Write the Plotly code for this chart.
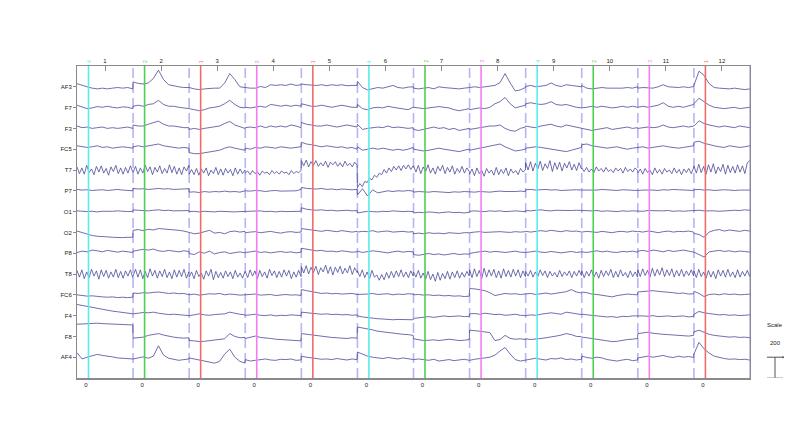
import numpy as np
import plotly.graph_objects as go

channels = ["AF3", "F7", "F3", "FC5", "T7", "P7", "O1", "O2", "P8", "T8", "FC6", "F4", "F8", "AF4"]
epoch_labels = [str(i) for i in range(1, 13)]
event_types = ["4", "2", "1", "3", "1", "4", "2", "3", "4", "2", "3", "1"]
event_colors = {"1": "#f26b6b", "2": "#4fcf4f", "3": "#f47cf4", "4": "#58ecf2"}
event_latency = 0.205   # fraction of epoch where the event sits
zero_tick = 0.16        # fraction of epoch where time 0 tick sits
channel_spacing = 200   # uV
scale_value = 200       # uV

# ---- data (uV), 12 epochs per channel ----
AF3 = [
    [30, 13, 0, -13, -20, -13, -20, -13, -7, -13, -7, -20],
    [47, 33, 27, 37, 80, 160, 70, 20, 7, 0, -7, -7],
    [-7, -20, -27, -20, -13, -13, -13, 37, 127, 70, 0, -13],
    [-7, -13, -13, 3, -7, 20, 13, 20, 13, 27, 13, 20],
    [27, 20, 13, 13, 20, 10, 20, 13, 20, 10, 13, 13],
    [53, -7, -30, -20, -7, -13, 0, 13, -7, -13, -3, 0],
    [-13, -20, -13, -7, -20, 0, -7, -13, -13, -20, -13, -13],
    [-7, 0, -7, 0, 7, 13, 40, 127, 37, -40, -30, -7],
    [3, 13, 0, 7, 13, 37, 13, 3, 20, 13, 7, 0],
    [13, -13, -20, -13, -7, -13, -13, -20, -13, -7, -13, 0],
    [-13, -7, -7, -13, 0, 20, 0, -7, -7, 0, -7, 3],
    [13, 150, 110, 30, -7, -13, -20, -20, -13, -20, -27, -20],
]
F7 = [
    [23, 3, -10, -3, 10, 3, 13, 3, -3, 7, 3, -10],
    [13, 23, 13, 30, 37, 70, 30, 13, 13, 3, -3, -3],
    [-10, -20, -30, -20, -3, 3, 13, 37, 70, 30, 3, -3],
    [3, -3, 3, 13, 3, 30, 23, 13, 23, 13, 23, 13],
    [37, 23, 13, 13, 23, 13, 3, 13, 23, 13, 3, 3],
    [30, -10, -20, -3, 3, -3, 13, 3, -3, -10, -20, 3],
    [3, -3, -10, -3, 3, 10, 3, -3, -20, -30, -20, -10],
    [-20, -10, -3, -10, 3, 37, 57, 97, 37, -3, 13, 23],
    [37, 47, 37, 30, 37, 57, 30, 23, 30, 13, 3, -3],
    [-3, 3, 13, 3, 13, 3, -3, 3, 13, 3, 13, 3],
    [3, 13, 3, 13, 23, 47, 13, 3, 13, 3, 13, 30],
    [37, 90, 57, 23, 3, -3, -10, -3, 3, -10, -3, 3],
]
F3 = [
    [23, 7, 13, 0, 7, 13, 0, 7, 0, 7, 13, 0],
    [33, 23, 23, 40, 57, 70, 40, 23, 23, 13, 7, 7],
    [-10, 0, -10, 0, 7, 13, 23, 47, 67, 33, 13, 0],
    [7, 13, 7, 23, 7, 23, 13, 23, 13, 33, 23, 7],
    [57, 40, 33, 23, 23, 33, 23, 13, 23, 33, 23, 13],
    [40, -10, 0, 7, 13, 7, 23, 7, 13, 7, 0, 7],
    [-10, -20, -10, 7, 13, 0, 7, -10, 0, -20, -10, 0],
    [-10, 0, 7, 13, 23, 23, 33, 0, -20, -27, 0, 13],
    [23, 13, 7, 23, 33, 40, 23, 13, 33, 23, 13, 7],
    [7, -10, -20, -10, 0, 7, -10, 0, 7, 13, 0, 7],
    [0, 7, 13, 7, 13, 33, 13, 7, 13, 23, 13, 23],
    [23, 73, 47, 33, 23, 13, 23, 13, 7, 23, 13, 7],
]
FC5 = [
    [33, 23, 17, 23, 33, 17, 23, 10, 17, 23, 17, 10],
    [23, 33, 23, 33, 43, 50, 33, 23, 17, 10, 17, 10],
    [-33, -43, -43, -33, -23, -17, -10, 10, 23, 10, 0, -10],
    [10, 0, 17, 10, 23, 17, 10, 23, 17, 10, 17, 23],
    [67, 50, 43, 33, 23, 33, 23, 17, 23, 10, 17, 0],
    [23, -10, 0, 10, 0, 10, 0, -10, 0, -10, 0, 17],
    [0, -10, -17, -10, 0, 10, 0, -10, -17, -23, -10, 0],
    [-10, 0, 17, 23, 33, 43, 50, 23, 0, -17, -10, 0],
    [10, 17, 23, 17, 10, 0, -10, -17, -23, -10, 0, 17],
    [43, 50, 33, 23, 17, 10, 17, 23, 10, 0, 10, 17],
    [17, 23, 10, 17, 23, 33, 23, 17, 10, 17, 23, 33],
    [67, 77, 57, 43, 33, 23, 17, 33, 23, 17, 23, 33],
]
T7 = [
    [30, -35, 20, -40, 45, -25, 10, -45, 35, -20, 40, -30, 15, -50, 30, -15, 45, -35, 20, -40, 25, -30, 40, -20],
    [-25, 35, -40, 20, -30, 45, -15, 30, -45, 25, -20, 40, -35, 15, -30, 50, -25, 35, -40, 20, -45, 30, -10, 45],
    [-40, 5, -45, 15, -50, 10, -30, 20, -55, 0, -35, 25, -45, 10, -50, 15, -30, 5, -55, 20, -40, 10, -35, 0],
    [-30, -10, -45, -5, -35, -15, -50, -10, -30, -20, -45, -5, -35, -15, -40, -10, -30, -20, -45, -5, -35, -15, -25, -5],
    [90, 40, 95, 30, 80, 45, 90, 35, 70, 40, 85, 25, 75, 50, 80, 35, 70, 30, 85, 40, 65, 30, 75, 45],
    [-170, -130, -160, -110, -120, -80, -95, -50, -70, -30, -45, 5, -30, 20, -15, 35, 0, 40, -5, 45, 10, 50, 5, 40],
    [40, -20, 45, -35, 30, -15, 50, -30, 20, -40, 35, -10, 45, -35, 25, -20, 40, -40, 15, -25, 35, -30, 20, -15],
    [-40, 10, -55, 20, -35, -5, -60, 15, -30, 0, -50, 25, -45, 5, -35, 20, -55, 10, -30, -5, -45, 15, -20, 0],
    [70, 0, 80, -10, 65, 10, 85, -5, 60, 15, 90, -15, 70, 5, 75, -10, 65, 20, 80, 0, 55, -5, 70, 10],
    [20, -15, 25, -20, 10, -25, 30, -10, 15, -20, 25, -15, 5, -25, 20, -10, 15, -30, 25, -15, 10, -20, 20, -5],
    [-30, 10, -40, 15, -25, 0, -45, 20, -30, 5, -40, 15, -20, 0, -35, 20, -30, 5, -45, 10, -25, 15, -35, 20],
    [40, -30, 55, -25, 35, -40, 50, -20, 60, -35, 30, -15, 55, -40, 45, -25, 35, -30, 50, -20, 40, -35, 70, 90],
]
P7 = [
    [13, 7, 10, 3, 7, 10, 3, 7, 13, 7, 3, 0],
    [23, 17, 20, 13, 17, 23, 17, 20, 13, 17, 23, 20],
    [-13, -10, -17, -7, -13, -7, -10, -3, -10, -7, -13, -7],
    [0, -3, 3, 0, -7, 0, 3, -3, 0, 3, 0, 13],
    [33, 23, 20, 17, 23, 13, 17, 10, 17, 13, 10, 13],
    [-40, 20, -50, 10, -20, -10, 0, -7, 0, -3, 3, -3],
    [-13, -7, -10, -13, -7, -10, -13, -17, -10, -13, -7, -10],
    [-10, -13, -7, -10, -13, -7, -3, -7, -10, -7, -3, -7],
    [10, 13, 7, 10, 13, 7, 10, 3, 7, 13, 10, 7],
    [7, 3, 10, 7, 13, 10, 7, 3, 10, 7, 3, 7],
    [3, 7, 10, 7, 3, 10, 7, 13, 10, 7, 10, 3],
    [10, 13, 7, 10, 3, 7, 10, 7, 3, 7, 10, 7],
]
O1 = [
    [7, 3, 0, 3, -3, 3, 0, 3, 7, 3, 0, 3],
    [17, 13, 10, 7, 13, 17, 10, 13, 7, 10, 13, 10],
    [0, 3, -3, 3, 0, -3, 3, 0, 3, -3, 0, 3],
    [3, 0, 3, 7, 0, 3, -3, 3, 0, 3, 7, 3],
    [37, 23, 17, 13, 17, 10, 13, 7, 10, 13, 7, 10],
    [-13, -3, 3, 0, -3, 3, 0, 7, 3, 0, 3, 0],
    [-13, -7, -10, -3, -7, -13, -7, -3, -10, -7, -13, -7],
    [3, 7, 3, 0, 7, 3, 7, 0, 3, 7, 3, 0],
    [10, 7, 13, 17, 10, 7, 13, 10, 7, 10, 13, 10],
    [7, 3, 7, 10, 3, 7, 3, 0, 7, 3, 7, 3],
    [7, 3, 10, 7, 3, 7, 10, 3, 7, 3, 7, 10],
    [10, 13, 7, 10, 7, 3, 7, 10, 13, 10, 17, 13],
]
O2 = [
    [13, -3, -20, -30, -37, -37, -43, -47, -50, -50, -47, -47],
    [20, 27, 17, 30, 23, 37, 33, 30, 23, 20, 13, 3],
    [0, -13, -7, 3, 20, -7, 0, -13, 7, 13, 3, 10],
    [-3, 3, 7, -3, 3, 10, 0, -7, 3, 7, 0, 3],
    [37, 30, 23, 17, 10, 20, 13, 7, 17, 10, 3, 10],
    [3, 10, 7, 17, 3, 10, 13, 3, 7, 10, 3, 7],
    [-13, -7, -13, -3, -10, -7, -13, -3, -7, -10, -3, -7],
    [-3, 3, 7, 0, 3, 10, 7, 3, 0, 7, 3, 7],
    [10, 3, 13, 17, 10, 20, 13, 7, 17, 10, 13, 7],
    [3, 10, 7, 0, 10, 3, -3, 7, 10, 3, 13, 7],
    [10, 3, 13, 7, -3, 7, 13, 3, 10, 7, 13, 3],
    [-10, -20, -47, 3, 20, 27, 13, 23, 17, 10, 20, 13],
]
P8 = [
    [7, 20, 13, 30, 23, 13, 27, 17, 10, 20, 13, 7],
    [20, 27, 37, 30, 40, 23, 17, 27, 20, 13, 23, 17],
    [-3, -13, 13, 0, 20, -7, 7, 13, -3, 7, 13, 3],
    [7, 13, 20, 7, 13, 3, 10, 17, 7, 13, 3, 10],
    [47, 37, 30, 23, 27, 17, 20, 13, 23, 17, 10, 13],
    [20, 7, 13, 23, 17, 10, 3, 13, 20, 10, 17, 13],
    [-13, -20, -13, -3, -13, -7, -17, -10, -3, -13, -7, -10],
    [-3, 7, 13, 20, 10, 17, 13, 7, 13, 20, 10, 7],
    [7, 13, 20, 10, 7, 17, 13, 3, 10, 17, 7, 13],
    [13, 7, 17, 23, 13, 20, 10, 7, 17, 13, 20, 10],
    [20, 27, 17, 30, 23, 13, 27, 17, 23, 30, 20, 13],
    [10, -13, -37, 13, 20, 27, 17, 23, 13, 20, 17, 10],
]
T8 = [
    [35, -30, 40, -45, 20, -35, 45, -20, 30, -50, 40, -25, 35, -40, 20, -30, 45, -35, 25, -40, 30, -20, 40, -35],
    [-20, 45, -30, 40, -45, 25, -35, 50, -20, 35, -40, 30, -25, 45, -35, 20, -45, 40, -30, 35, -25, 45, -40, 20],
    [-30, 20, -45, 35, -25, 10, -50, 30, -20, 45, -55, 25, -35, 15, -40, 30, -25, 20, -45, 35, -30, 10, -40, 25],
    [25, -35, 40, -20, 30, -45, 35, -25, 20, -40, 45, -15, 30, -35, 25, -30, 40, -20, 35, -45, 20, -30, 35, -25],
    [70, 10, 80, 0, 65, 15, 75, -5, 60, 20, 85, 5, 70, -10, 65, 15, 75, 0, 55, 10, 80, -5, 60, 15],
    [30, -25, 40, -35, 20, -45, 35, -30, -10, -60, -5, -55, 15, -40, 25, -35, 30, -25, 40, -30, 20, -35, 30, -20],
    [20, -30, 35, -40, 10, -50, 25, -55, 0, -70, 15, -60, 5, -45, 25, -50, 20, -35, 30, -40, 15, -30, 25, -20],
    [40, -35, 50, -25, 35, -45, 55, -30, 40, -20, 45, -35, 30, -40, 50, -25, 35, -30, 45, -20, 40, -35, 30, -25],
    [25, -20, 35, -30, 20, -25, 40, -15, 30, -35, 25, -20, 15, -30, 35, -25, 20, -15, 30, -35, 25, -20, 35, -15],
    [30, -35, 25, -20, 40, -30, 20, -40, 35, -25, 30, -15, 45, -35, 25, -30, 40, -20, 15, -35, 30, -25, 20, -30],
    [40, -25, 50, -15, 35, -30, 55, -20, 45, -10, 60, -25, 40, -15, 50, -30, 35, -20, 45, -25, 30, -15, 40, -20],
    [30, -35, 45, -25, 20, -40, 35, -30, 25, -45, 40, -20, 35, -30, 45, -25, 20, -35, 40, -30, 25, -20, 35, -25],
]
FC6 = [
    [0, -7, -13, -10, -17, -20, -23, -20, -27, -23, -27, -23],
    [17, 13, 20, 17, 23, 27, 20, 13, 17, 10, 13, 7],
    [0, 7, -3, 3, 10, 7, 13, 0, 7, 3, -3, 0],
    [0, 3, 7, -3, 0, 3, -7, 0, 3, -3, 0, -7],
    [50, 40, 30, 20, 13, 17, 10, 13, 7, 10, 13, 3],
    [3, 10, 7, 13, 3, 7, 10, 0, 7, 3, 10, 7],
    [0, 3, -3, 0, -7, -3, -10, -7, -13, -10, -17, -13],
    [60, 57, 50, 40, 20, -7, 3, 13, 7, 10, 3, 7],
    [7, 13, 3, 10, 17, 7, 13, 23, 30, 50, 27, 17],
    [27, 20, 7, 3, -7, -13, -20, -7, 3, 7, 3, 0],
    [27, 33, 37, 40, 33, 30, 27, 20, 13, 17, 7, 10],
    [33, 13, -17, 3, 7, 0, 10, 3, 7, 0, 3, 7],
]
F4 = [
    [107, 97, 87, 77, 67, 60, 53, 43, 37, 30, 30, 23],
    [17, 23, 30, 27, 33, 23, 17, 10, 13, 7, 3, 0],
    [0, 7, 17, 7, 3, 10, 13, 17, 33, 20, 13, 7],
    [3, 7, 13, 3, 0, 7, -3, 3, 0, 7, 3, 0],
    [33, 27, 23, 20, 13, 17, 10, 13, 7, 10, 3, 7],
    [-3, -13, -20, -27, -30, -33, -37, -40, -37, -40, -43, -40],
    [-27, -20, -13, -10, -17, -7, -3, -10, -7, -3, -10, -7],
    [17, 20, 13, 23, 17, 10, 13, 3, 7, 13, 3, 0],
    [0, 7, 3, 13, 20, 27, 20, 13, 33, 23, 17, 10],
    [13, 7, 3, 0, -7, -13, -10, -17, -7, -10, -3, 0],
    [0, -3, -7, 0, -10, -7, -3, -10, -7, -3, -13, -7],
    [13, 40, 27, 17, 13, 7, 10, 3, 7, 0, 3, 7],
]
F8 = [
    [117, 120, 127, 130, 127, 123, 120, 117, 113, 117, 113, 110],
    [-17, -10, -7, 10, 20, 27, 13, 0, -7, -13, -17, -13],
    [-40, -43, -50, -47, -40, -37, -33, -23, 27, 0, -13, -10],
    [-20, -7, 3, -10, -13, -20, -27, -30, -33, -37, -40, -43],
    [27, 20, 13, 7, 3, -3, -10, -13, -17, -20, -13, -17],
    [90, 83, 77, 63, 50, 43, 37, 30, 23, 20, 17, 10],
    [-23, -30, -40, -37, -33, -40, -30, -27, -33, -40, -37, -30],
    [60, 57, 50, 43, 37, -40, -30, 10, -20, -27, -23, -30],
    [-23, -30, -27, -20, -13, -7, 3, 13, 27, 17, 0, -3],
    [-7, -13, -20, -27, -37, -43, -50, -47, -37, -30, -27, -20],
    [27, 33, 40, 30, 23, 20, 17, 13, 10, 7, 3, 10],
    [43, 60, 40, 20, 10, 3, 0, -7, -3, -10, -7, -13],
]
AF4 = [
    [43, -17, 0, 10, 27, 17, 13, 3, -7, -10, -17, -23],
    [-17, -7, 3, -10, 10, 110, 20, -10, -17, -30, -23, -17],
    [-7, -17, -30, -40, -50, -57, -40, 30, 77, 0, -40, -57],
    [-23, -37, -30, -23, -17, -27, -30, -20, -23, -17, -30, -27],
    [10, 0, -7, -13, -20, -17, -23, -13, -20, -27, -17, -23],
    [50, 30, 10, 0, -7, -13, -3, -10, -17, -7, -13, -20],
    [-23, -17, -27, -30, -20, -37, -30, -23, -33, -27, -20, -30],
    [-30, -20, -10, -7, 0, 20, 60, 93, 30, -23, -37, -30],
    [-23, -17, -10, -20, -27, -13, -17, -7, -23, -17, -27, -20],
    [10, -3, -10, 0, -7, -23, -30, -37, -27, -20, -33, -27],
    [-7, 3, 10, 0, 7, 17, 3, -3, 10, 0, 7, -3],
    [30, 143, 80, 40, 10, -3, -13, -20, -17, -23, -20, -27],
]

channel_data = [AF3, F7, F3, FC5, T7, P7, O1, O2, P8, T8, FC6, F4, F8, AF4]
n_epochs = len(epoch_labels)
n_ch = len(channels)
offsets = [(n_ch - i) * channel_spacing for i in range(n_ch)]
ymax = (n_ch + 1) * channel_spacing

trace_color = "#4a4a98"
axis_color = "#8a8a8a"
font_family = "Liberation Sans, Arial, sans-serif"

# page offset of the figure (body margin) is 8 px
M_L, M_R, M_T, M_B = 69, 58, 58, 75
W, H = 800, 445
PAGE = 8

fig = go.Figure()

for ci, (name, epochs) in enumerate(zip(channels, channel_data)):
    xs, ys = [], []
    for k, vals in enumerate(epochs):
        t = np.linspace(k, k + 0.995, len(vals))
        xs.extend(t.tolist())
        ys.extend([offsets[ci] + v for v in vals])
    fig.add_trace(go.Scatter(x=xs, y=ys, mode="lines", name=name,
                             line=dict(color=trace_color, width=0.8),
                             hoverinfo="skip", showlegend=False))

# invisible trace to anchor top axis
fig.add_trace(go.Scatter(x=[0, n_epochs], y=[0, 0], xaxis="x2", mode="markers",
                         marker=dict(opacity=0), hoverinfo="skip", showlegend=False))

shapes = []
# epoch boundaries
for k in range(1, n_epochs + 1):
    shapes.append(dict(type="line", xref="x", yref="paper", x0=k, x1=k, y0=0, y1=1,
                       line=dict(color="rgba(120,120,240,0.55)", width=1.6,
                                 dash="solid" if k == n_epochs else "10px,5px"),
                       layer="below"))
# events
annotations = []
for k, et in enumerate(event_types):
    xe = k + event_latency
    shapes.append(dict(type="line", xref="x", yref="paper", x0=xe, x1=xe, y0=0, y1=1,
                       line=dict(color=event_colors[et], width=1.6), layer="above"))
    annotations.append(dict(x=xe, y=1, xref="x", yref="paper", text=et, showarrow=False,
                            textangle=-90, yanchor="bottom", xanchor="center", yshift=1,
                            font=dict(size=5, color=event_colors[et], family=font_family)))

# scale bar (outside the plot, right); positions given in page pixels
def px2paper(px):
    return (px - PAGE - M_L) / (W - M_L - M_R)

xb = px2paper(775)
xl, xr = px2paper(767), px2paper(783)
shapes += [
    dict(type="line", xref="paper", yref="y", x0=xb, x1=xb, y0=0, y1=scale_value,
         line=dict(color="#555", width=1)),
    dict(type="line", xref="paper", yref="y", x0=xl, x1=xr, y0=0, y1=0,
         line=dict(color="#999", width=1)),
    dict(type="line", xref="paper", yref="y", x0=xl, x1=xr, y0=scale_value, y1=scale_value,
         line=dict(color="#555", width=1)),
    dict(type="circle", xref="paper", yref="y", x0=px2paper(782), x1=px2paper(784),
         y0=scale_value - 10, y1=scale_value + 10, fillcolor="#555", line=dict(width=0)),
]
annotations += [
    dict(x=xb, y=510, xref="paper", yref="y", text="Scale", showarrow=False,
         xanchor="center", yanchor="middle",
         font=dict(size=6, color="#222", family=font_family)),
    dict(x=xb, y=336, xref="paper", yref="y", text=str(scale_value), showarrow=False,
         xanchor="center", yanchor="middle",
         font=dict(size=6, color="#222", family=font_family)),
]

fig.update_layout(
    width=W, height=H,
    margin=dict(l=M_L, r=M_R, t=M_T, b=M_B, autoexpand=False),
    paper_bgcolor="white", plot_bgcolor="white",
    font=dict(family=font_family, size=6, color="#222"),
    xaxis=dict(range=[0, n_epochs], showgrid=False, zeroline=False, automargin=False,
               showline=True, linecolor=axis_color, linewidth=1.5,
               tickvals=[k + zero_tick for k in range(n_epochs)],
               ticktext=["0"] * n_epochs, ticks="", tickfont=dict(size=6, color="#222")),
    xaxis2=dict(range=[0, n_epochs], overlaying="x", side="top", showgrid=False,
                zeroline=False, showline=True, linecolor=axis_color, linewidth=1,
                automargin=False,
                tickvals=[k + 0.5 for k in range(n_epochs)], ticktext=epoch_labels,
                ticks="inside", ticklen=5, tickcolor=axis_color,
                tickfont=dict(size=6, color="#222")),
    yaxis=dict(range=[0, ymax], showgrid=False, zeroline=False, automargin=False,
               showline=True, linecolor=axis_color, linewidth=1, mirror=True,
               tickvals=offsets, ticktext=channels, ticks="outside", ticklen=3,
               tickcolor=axis_color, tickfont=dict(size=6, color="#222")),
    shapes=shapes, annotations=annotations,
)

fig.write_html("out.html")
